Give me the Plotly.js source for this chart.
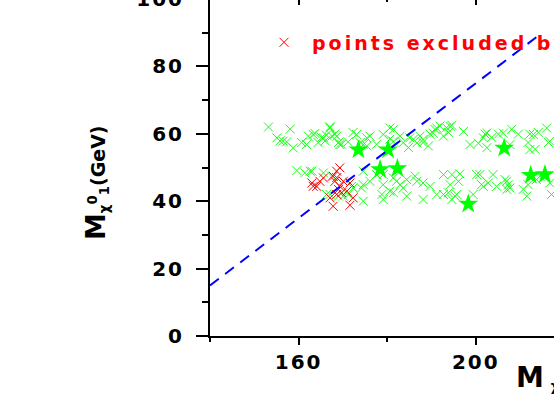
<!DOCTYPE html>
<html>
<head>
<meta charset="utf-8">
<script src="https://cdn.plot.ly/plotly-3.0.1.min.js"></script>
<style>
html,body{margin:0;padding:0;overflow:hidden;background:#fff;width:554px;height:415px;}
#plot{position:absolute;left:0;top:-20px;width:940px;height:460px;}
.xtick text,.ytick text{letter-spacing:2px;}
.legendtext{letter-spacing:3px;}
</style>
</head>
<body>
<div id="plot"></div>
<script>
// green crosses (allowed points)
const greenX = [153.2,158.1,155.1,156.5,158.8,161.8,163.3,165.6,167.1,168.6,169.3,173.1,175.4,174.6,179.1,180.6,181.4,185.1,186.7,188.1,190.4,191.2,194.2,197.2,198.7,201.7,202.5,206.2,207.7,213.0,216.0,212.2,216.7,
155.8,157.3,160.7,162.2,163.7,165.2,166.0,166.3,167.5,168.2,169.0,169.7,164.4,171.2,172.3,167.1,
173.9,175.4,176.1,181.4,180.6,182.9,183.6,184.8,185.9,187.4,188.1,189.7,190.8,191.9,192.7,193.4,189.3,177.6,
194.6,193.8,200.6,202.1,202.5,203.6,205.1,208.1,209.6,212.2,214.1,211.8,213.4,216.4,
159.6,162.6,165.6,161.4,163.0,167.1,170.1,172.3,174.6,174.6,176.1,179.1,179.1,182.1,180.6,183.6,186.7,188.1,189.7,192.7,194.2,192.7,195.7,200.2,199.4,201.7,203.9,207.0,207.7,210.7,211.5,216.7,214.5,174.6,
177.6,179.1,181.4,182.9,184.4,186.3,188.1,178.8,181.4,184.4,191.2,174.2,
194.6,196.4,196.1,193.8,195.3,201.3,202.8,204.7,206.6,207.3,207.0,200.9,211.8,213.7,217.1,194.6,
167.5,166.3,169.0,171.2,172.0];
const greenY = [62.0,61.4,58.8,57.8,55.8,56.8,59.8,58.8,61.7,59.3,56.8,59.8,58.8,56.8,59.8,61.7,57.8,58.8,57.3,58.3,60.2,61.7,62.2,60.7,56.8,58.8,60.2,60.2,56.8,59.8,61.7,55.3,57.8,
57.9,57.6,57.4,59.3,60.1,58.9,57.9,59.6,59.3,59.9,57.4,56.9,57.4,57.6,60.4,62.1,
57.4,56.4,59.3,61.3,58.4,59.3,57.4,55.9,58.4,59.3,57.4,59.9,61.3,62.3,59.3,61.8,56.4,56.9,
62.5,60.4,57.2,59.9,55.9,58.9,59.9,61.3,59.9,59.9,60.4,57.4,55.4,57.4,
49.1,48.9,48.4,48.4,48.9,42.0,41.5,43.9,44.9,48.9,45.9,47.9,40.5,45.9,43.0,43.9,45.9,40.5,44.4,47.9,44.9,42.0,42.0,47.9,42.0,44.4,47.9,45.9,43.9,43.5,41.5,45.4,47.4,40.0,
47.9,44.9,46.9,44.9,46.4,47.4,45.4,42.0,42.5,41.5,42.0,43.9,
47.9,48.1,45.9,42.5,41.5,44.9,45.4,44.4,46.4,44.9,43.5,47.9,44.9,46.4,42.0,40.5,
47.4,42.0,41.5,42.0,44.4];
// green stars
const starX = [173.5,180.2,206.4,178.4,182.3,198.3,212.4,215.6];
const starY = [55.3,55.3,55.8,49.4,49.7,39.2,47.7,47.9];
// red crosses (excluded points)
const redX = [163.3,164.8,165.6,167.8,168.6,169.3,169.0,169.7,168.6,170.9,171.6,172.3,167.8,171.6,167.1,168.2,169.3,164.1,163.0,170.1,168.6];
const redY = [44.4,45.9,46.9,47.4,48.9,49.9,43.5,42.5,42.0,43.0,45.4,41.0,38.5,38.8,41.0,45.9,44.4,44.4,45.4,45.9,47.0];
// dashed reference line
const lineX = [140, 215];
const lineY = [15, 90];

const legendLabel = "points excluded by LEP";
const xTitle = '<span style="font-size:28px">M</span> <sub>χ</sub><sup>±</sup><sub>1</sub>(GeV)';
const yTitle = '<span style="font-size:27px">M</span><sub>χ</sub><sup>0</sup><sub>1</sub>(GeV)';

const GREEN = '#1aff1a';
const traces = [
  {x: greenX, y: greenY, type:'scatter', mode:'markers', showlegend:false,
   marker:{symbol:'x-thin-open', size:9, color:GREEN, line:{width:1, color:GREEN}}},
  {x: redX, y: redY, type:'scatter', mode:'markers', name: legendLabel, showlegend:true,
   marker:{symbol:'x-thin-open', size:9, color:'#ff0000', line:{width:1, color:'#ff0000'}}},
  {x: starX, y: starY, type:'scatter', mode:'markers', showlegend:false,
   marker:{symbol:'star', size:15, color:'#00ff00', line:{width:0}}},
  {x: lineX, y: lineY, type:'scatter', mode:'lines', showlegend:false,
   line:{color:'#0000ff', width:2, dash:'11px,8px'}}
];

const W = 940, L = 210, R = 21;
const plotW = W - L - R;
const layout = {
  width: W, height: 460,
  margin: {l: L, r: R, t: 19, b: 104},
  paper_bgcolor:'#fff', plot_bgcolor:'#fff',
  font: {family:'DejaVu Sans', color:'#000', weight:'bold'},
  showlegend: true,
  legend: {x: (256-L)/plotW, xanchor:'left', y: 0.871, yanchor:'middle', itemwidth:46,
           bgcolor:'rgba(0,0,0,0)', borderwidth:0,
           font:{family:'DejaVu Sans', size:19, color:'#ff0000', weight:'bold'}},
  xaxis: {range:[140, 140 + plotW/4.43], showline:true, linewidth:2, linecolor:'#000',
          ticks:'outside', ticklen:7, tickwidth:2, tickcolor:'#000', tick0:0, dtick:40,
          minor:{ticks:'outside', ticklen:4, tickwidth:2, dtick:20, tick0:0, tickcolor:'#000'},
          showgrid:false, zeroline:false,
          tickfont:{family:'DejaVu Sans', size:20, weight:'bold', color:'#000'}},
  xaxis2: {overlaying:'x', matches:'x', side:'top', showline:true, linewidth:2, linecolor:'#000',
          ticks:'inside', ticklen:6, tickwidth:2, tickcolor:'#000', tick0:0, dtick:40,
          minor:{ticks:'inside', ticklen:3, tickwidth:2, dtick:20, tick0:0, tickcolor:'#000'},
          showticklabels:false, showgrid:false, zeroline:false},
  yaxis: {range:[0,100], showline:true, linewidth:2, linecolor:'#000',
          ticks:'outside', ticklen:12, tickwidth:2, tickcolor:'#000', dtick:20, tick0:0,
          minor:{ticks:'outside', ticklen:6, tickwidth:2, dtick:10, tick0:0, tickcolor:'#000'},
          ticklabelstandoff: 8,
          showgrid:false, zeroline:false,
          tickfont:{family:'DejaVu Sans', size:20, weight:'bold', color:'#000'}},
  annotations: [
    {text: xTitle, xref:'paper', yref:'paper', x:(514-L)/plotW, y:-(377-336)/337,
     xanchor:'left', yanchor:'middle', showarrow:false,
     font:{family:'DejaVu Sans', size:20, weight:'bold', color:'#000'}},
    {text: yTitle, xref:'paper', yref:'paper', x:-(L-96)/plotW, y:1-(184)/337,
     xanchor:'center', yanchor:'middle', showarrow:false, textangle:-90,
     font:{family:'DejaVu Sans', size:19, weight:'bold', color:'#000'}}
  ]
};
// invisible helper trace so that the mirrored top axis is drawn
traces.push({x:[140], y:[0], xaxis:'x2', type:'scatter', mode:'markers', showlegend:false,
             marker:{opacity:0}, hoverinfo:'skip'});
Plotly.newPlot('plot', traces, layout, {displayModeBar:false, staticPlot:true});
</script>
</body>
</html>
